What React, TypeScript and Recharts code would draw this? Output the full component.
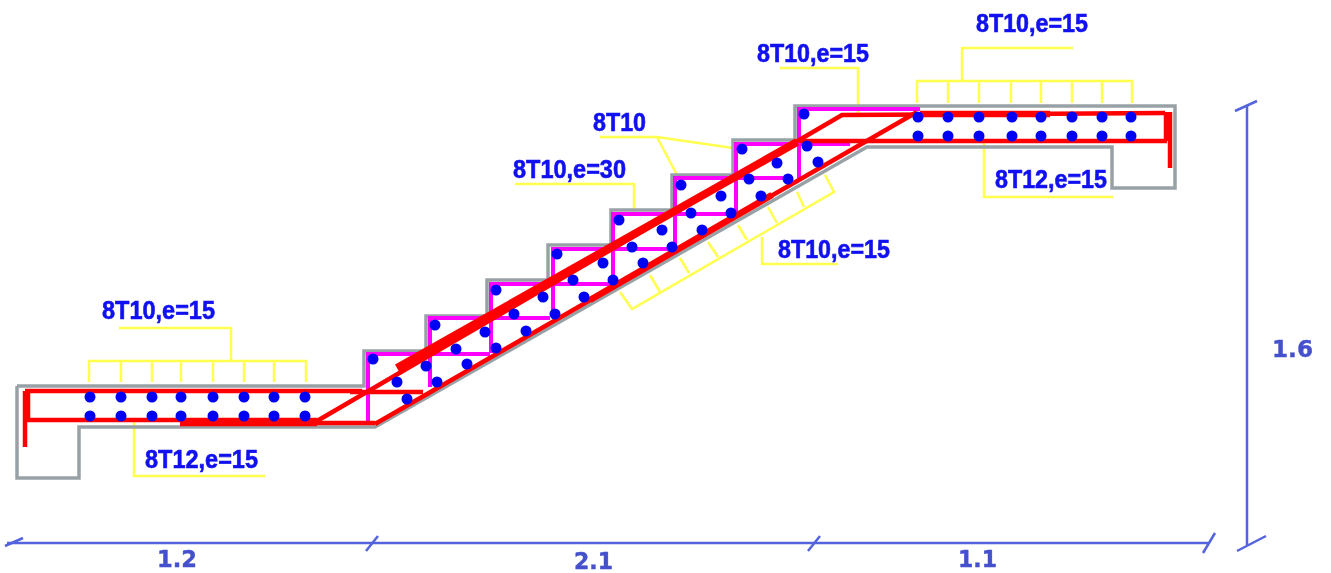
import React from 'react';
import { ScatterChart, Scatter, XAxis, YAxis } from 'recharts';

type Pt = [number, number];

const WIDTH = 1331;
const HEIGHT = 573;

const concreteOutline: Pt[][] = [[
  [17, 386], [17, 478], [79, 478], [79, 427], [375, 427], [867, 147], [1112, 147], [1112, 188], [1175, 188],
  [1175, 106], [795, 106], [795, 140], [733, 140], [733, 175], [672, 175], [672, 210], [611, 210], [611, 245],
  [548, 245], [548, 280], [487, 280], [487, 316], [426, 316], [426, 351], [364, 351], [364, 386], [17, 386],
]];

const stirrups: Pt[][] = [
  [[368, 423], [368, 354], [490, 354]],
  [[430, 387], [430, 318], [550, 318]],
  [[491, 353], [491, 284], [612, 284]],
  [[553, 317], [553, 249], [675, 249]],
  [[613, 282], [613, 214], [735, 214]],
  [[675, 247], [675, 178], [787, 178]],
  [[736, 213], [736, 144], [850, 144]],
  [[799, 178], [799, 109], [920, 109]],
];

const redBars: Pt[][] = [
  [[25, 391], [362, 391]],
  [[25, 420], [317, 420]],
  [[317, 423], [375, 423]],
  [[350, 392], [423, 392]],
  [[317, 421], [842, 115], [1165, 113]],
  [[375, 424], [917, 112]],
  [[800, 141], [1167, 141]],
];

const redThickBars: Pt[][] = [
  [[180, 423], [317, 423]],
  [[590, 300], [772, 195]],
  [[920, 114], [1050, 114]],
  [[27, 391], [27, 420]],
  [[1167, 112], [1167, 141]],
];

const redThickerBars: Pt[][] = [
  [[397, 368], [797, 142]],
];

const redHooks: Pt[][] = [
  [[25, 391], [25, 447]],
  [[1170, 112], [1170, 168]],
];

const leaders: Pt[][] = [
  // left landing
  [[89, 382], [89, 361], [306, 361], [306, 382]],
  [[121, 361], [121, 382]], [[152, 361], [152, 382]], [[181, 361], [181, 382]], [[213, 361], [213, 382]],
  [[244, 361], [244, 382]], [[274, 361], [274, 382]],
  [[231, 361], [231, 328], [119, 328]],
  [[134, 422], [134, 476], [265, 476]],
  // right landing
  [[917, 103], [917, 81], [1132, 81], [1132, 103]],
  [[948, 81], [948, 103]], [[979, 81], [979, 103]], [[1011, 81], [1011, 103]], [[1041, 81], [1041, 103]],
  [[1072, 81], [1072, 103]], [[1102, 81], [1102, 103]],
  [[962, 81], [962, 48], [1073, 48]],
  [[984, 142], [984, 197], [1113, 197]],
  // stairs
  [[780, 68], [858, 68], [858, 114]],
  [[600, 137], [657, 137], [733, 148]],
  [[657, 137], [677, 175]],
  [[515, 184], [634, 184], [634, 213]],
  // under the slope
  [[620, 292], [632, 309], [834, 192], [825, 175]],
  [[650, 275], [660, 292]], [[680, 258], [689, 273]], [[708, 242], [718, 257]],
  [[738, 225], [747, 240]], [[768, 207], [777, 223]], [[797, 192], [804, 207]],
  [[762, 237], [762, 264], [838, 264]],
];

const dimensions: Pt[][] = [
  [[7, 543], [1208, 543]],
  [[5, 546], [23, 538]],
  [[366, 551], [378, 536]],
  [[808, 551], [820, 536]],
  [[1203, 553], [1215, 533]],
  [[1247, 105], [1247, 545]],
  [[1235, 111], [1257, 101]],
  [[1237, 551], [1266, 536]],
];

const bars: Pt[] = [
  [90, 397], [121, 397], [152, 397], [181, 397], [213, 397], [244, 397], [274, 397], [305, 397],
  [90, 416], [121, 416], [152, 416], [181, 416], [213, 416], [244, 416], [274, 416], [305, 416],
  [918, 117], [948, 117], [979, 117], [1012, 117], [1041, 117], [1072, 117], [1102, 117], [1131, 117],
  [918, 136], [948, 136], [979, 136], [1012, 136], [1041, 136], [1072, 136], [1102, 136], [1131, 136],
  [373, 359], [397, 382], [407, 399], [426, 366], [437, 382],
  [435, 325], [456, 349], [467, 364], [485, 332], [496, 348],
  [496, 290], [514, 314], [526, 331], [543, 297], [555, 314],
  [557, 254], [573, 280], [584, 297], [603, 263], [613, 280],
  [619, 220], [632, 247], [643, 263], [662, 230], [672, 247],
  [681, 185], [691, 213], [702, 230], [721, 196], [731, 213],
  [742, 149], [749, 179], [761, 196], [777, 163], [788, 179],
  [804, 114], [807, 146], [818, 162],
];

const rebarNotes = [
  { x: 102, y: 319, text: '8T10,e=15', len: 113 },
  { x: 145, y: 468, text: '8T12,e=15', len: 113 },
  { x: 513, y: 178, text: '8T10,e=30', len: 113 },
  { x: 593, y: 131, text: '8T10', len: 53 },
  { x: 757, y: 62, text: '8T10,e=15', len: 112 },
  { x: 976, y: 32, text: '8T10,e=15', len: 112 },
  { x: 995, y: 188, text: '8T12,e=15', len: 112 },
  { x: 778, y: 258, text: '8T10,e=15', len: 112 },
];

const dimensionNotes = [
  { x: 157, y: 567, text: '1.2', len: 40 },
  { x: 574, y: 569, text: '2.1', len: 39 },
  { x: 958, y: 567, text: '1.1', len: 39 },
  { x: 1272, y: 357, text: '1.6', len: 41 },
];

const noMark = () => <g />;

const drawLines = (lines: Pt[][], stroke: string, width: number, name: string) =>
  lines.map((line, i) => (
    <Scatter
      key={`${name}-${i}`}
      data={line.map(([x, y]) => ({ x, y }))}
      line={{ stroke, strokeWidth: width, fill: 'none', strokeLinejoin: 'miter' }}
      lineType="joint"
      shape={noMark}
      isAnimationActive={false}
    />
  ));

const RoundBar = (props: any) => <circle cx={props.cx} cy={props.cy} r={5.5} fill="#0000f5" />;

const RebarNote = (props: any) => (
  <text
    x={props.cx}
    y={props.cy}
    fontFamily="Liberation Sans"
    fontWeight="bold"
    fontSize={26}
    fill="#1010f0"
    stroke="#1010f0"
    strokeWidth={0.6}
    textLength={props.payload.len}
    lengthAdjust="spacingAndGlyphs"
  >
    {props.payload.text}
  </text>
);

const DimensionNote = (props: any) => (
  <text
    x={props.cx}
    y={props.cy}
    fontFamily="DejaVu Sans"
    fontWeight="bold"
    fontSize={23}
    fill="#4450cc"
    stroke="#4450cc"
    strokeWidth={0.4}
    textLength={props.payload.len}
    lengthAdjust="spacingAndGlyphs"
  >
    {props.payload.text}
  </text>
);

export default function App() {
  return (
    <div style={{ position: 'absolute', left: 0, top: 0, width: WIDTH, height: HEIGHT, filter: 'blur(0.5px)' }}>
      <ScatterChart width={WIDTH} height={HEIGHT} margin={{ top: 0, right: 0, bottom: 0, left: 0 }}>
        <XAxis type="number" dataKey="x" domain={[0, WIDTH]} hide />
        <YAxis type="number" dataKey="y" domain={[0, HEIGHT]} reversed hide />
        {drawLines(leaders, '#ffff4d', 2.5, 'leader')}
        {drawLines(concreteOutline, '#98a2a6', 3.5, 'concrete')}
        {drawLines(dimensions, '#5464dc', 2.5, 'dim')}
        {drawLines(stirrups, '#ff00ff', 4, 'stirrup')}
        {drawLines(redBars, '#ff0000', 4.5, 'red')}
        {drawLines(redThickBars, '#ff0000', 6.5, 'redThick')}
        {drawLines(redThickerBars, '#ff0000', 8, 'redThicker')}
        {drawLines(redHooks, '#ff0000', 4.5, 'hook')}
        <Scatter data={bars.map(([x, y]) => ({ x, y }))} shape={RoundBar} isAnimationActive={false} />
        <Scatter data={rebarNotes} shape={RebarNote} isAnimationActive={false} />
        <Scatter data={dimensionNotes} shape={DimensionNote} isAnimationActive={false} />
      </ScatterChart>
    </div>
  );
}
